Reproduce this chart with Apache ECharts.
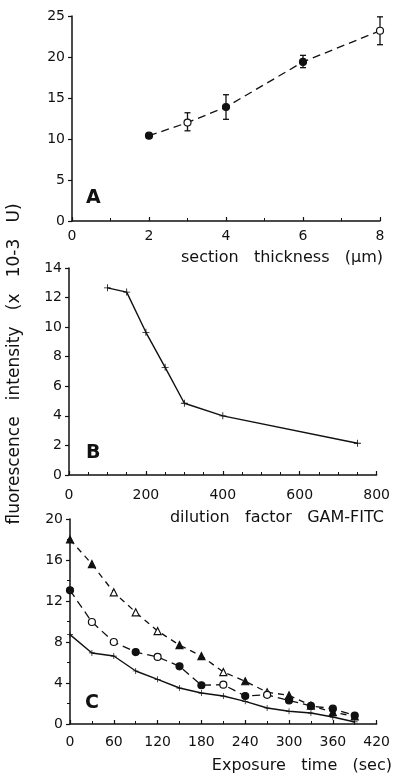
<!DOCTYPE html>
<html>
<head>
<meta charset="utf-8">
<script src="https://cdn.jsdelivr.net/npm/echarts@6/dist/echarts.min.js"></script>
<style>
html,body{margin:0;padding:0;background:#fff;}
#chart{width:393px;height:777px;}
</style>
</head>
<body>
<div id="chart"></div>
<script>
// Panel A: section thickness
const aThickness = [2, 3, 4, 6, 8];
const aIntensity = [10.4, 12.0, 13.9, 19.4, 23.2];
const aErrLow = [10.2, 11.0, 12.4, 18.7, 21.5];
const aErrHigh = [10.6, 13.2, 15.4, 20.2, 24.9];

// Panel B: dilution factor
const bDilution = [100, 150, 200, 250, 300, 400, 750];
const bIntensity = [12.66, 12.37, 9.65, 7.28, 4.85, 4.0, 2.15];

// Panel C: exposure time
const cTime = [0, 30, 60, 90, 120, 150, 180, 210, 240, 270, 300, 330, 360, 390];
const cTriangle = [18.0, 15.6, 12.85, 10.9, 9.07, 7.7, 6.63, 5.07, 4.17, 3.1, 2.8, 1.8, 1.15, 0.75];
const cCircle = [13.04, 9.95, 8.0, 7.02, 6.54, 5.63, 3.78, 3.84, 2.73, 2.85, 2.3, 1.76, 1.5, 0.82];
const cPlus = [8.72, 6.93, 6.63, 5.17, 4.36, 3.51, 3.02, 2.73, 2.21, 1.56, 1.24, 1.07, 0.68, 0.2];

const ink = '#111';
const font = 'DejaVu Sans';

const aFilled = [true, false, true, true, false];
const triFilled = [true, true, false, false, false, true, true, false, true, false, true, true, true, true];
const cirFilled = [true, false, false, true, false, true, true, false, true, false, true, true, true, true];

function styled(xs, ys, filled) {
  return xs.map((x, i) => ({
    value: [x, ys[i]],
    itemStyle: { color: filled[i] ? ink : '#fff', borderColor: ink, borderWidth: 1.2 }
  }));
}

const plusPath = 'path://M-0.6,-5H0.6V-0.6H5V0.6H0.6V5H-0.6V0.6H-5V-0.6H-0.6Z';

function yAxisCfg(gi, min, max, interval, minorSplit) {
  return {
    type: 'value', gridIndex: gi, min: min, max: max, interval: interval,
    axisLine: { show: true, lineStyle: { color: ink, width: 1.5 } },
    axisTick: { show: true, inside: false, length: 4, lineStyle: { color: ink, width: 1.2 } },
    minorTick: { show: !!minorSplit, splitNumber: minorSplit || 5, length: 3, lineStyle: { color: ink, width: 1 } },
    axisLabel: { color: ink, fontSize: 14, fontFamily: font, margin: 7 },
    splitLine: { show: false }
  };
}
function xAxisCfg(gi, min, max, interval, minorSplit, margin) {
  return {
    type: 'value', gridIndex: gi, min: min, max: max, interval: interval,
    axisLine: { show: true, onZero: false, lineStyle: { color: ink, width: 1.5 } },
    axisTick: { show: true, inside: true, length: 4, lineStyle: { color: ink, width: 1.2 } },
    minorTick: { show: !!minorSplit, splitNumber: minorSplit || 5, length: 3, lineStyle: { color: ink, width: 1 } },
    axisLabel: { color: ink, fontSize: 14, fontFamily: font, margin: margin },
    splitLine: { show: false }
  };
}

const chart = echarts.init(document.getElementById('chart'), null, { renderer: 'canvas' });

const errData = aThickness.map((t, i) => [t, aErrLow[i], aErrHigh[i]]);

const option = {
  animation: false,
  backgroundColor: '#fff',
  grid: [
    { left: 72, top: 16, width: 308, height: 205 },
    { left: 69, top: 268, width: 308, height: 207 },
    { left: 70, top: 519, width: 308, height: 205 }
  ],
  xAxis: [
    xAxisCfg(0, 0, 8, 2, 2, 8),
    xAxisCfg(1, 0, 800, 200, 4, 13),
    xAxisCfg(2, 0, 420, 60, 2, 11)
  ],
  yAxis: [
    yAxisCfg(0, 0, 25, 5, 0),
    yAxisCfg(1, 0, 14, 2, 0),
    yAxisCfg(2, 0, 20, 4, 2)
  ],
  series: [
    {
      type: 'custom', xAxisIndex: 0, yAxisIndex: 0, data: errData, z: 1,
      renderItem: function (params, api) {
        const x = api.value(0), lo = api.value(1), hi = api.value(2);
        const p1 = api.coord([x, lo]), p2 = api.coord([x, hi]);
        const st = { stroke: ink, lineWidth: 1.3 };
        return {
          type: 'group', children: [
            { type: 'line', shape: { x1: p1[0], y1: p1[1], x2: p2[0], y2: p2[1] }, style: st },
            { type: 'line', shape: { x1: p1[0] - 3, y1: p1[1], x2: p1[0] + 3, y2: p1[1] }, style: st },
            { type: 'line', shape: { x1: p2[0] - 3, y1: p2[1], x2: p2[0] + 3, y2: p2[1] }, style: st }
          ]
        };
      }
    },
    {
      type: 'line', xAxisIndex: 0, yAxisIndex: 0, z: 3,
      data: styled(aThickness, aIntensity, aFilled),
      symbol: 'circle', symbolSize: 7,
      lineStyle: { color: ink, width: 1.3, type: [8, 5] }
    },
    {
      type: 'line', xAxisIndex: 1, yAxisIndex: 1,
      data: bDilution.map((d, i) => [d, bIntensity[i]]),
      symbol: plusPath, symbolSize: 7,
      itemStyle: { color: ink },
      lineStyle: { color: ink, width: 1.4 }
    },
    {
      type: 'line', xAxisIndex: 2, yAxisIndex: 2,
      data: styled(cTime, cTriangle, triFilled),
      symbol: 'triangle', symbolSize: 7,
      lineStyle: { color: ink, width: 1.3, type: [6, 5] }
    },
    {
      type: 'line', xAxisIndex: 2, yAxisIndex: 2,
      data: styled(cTime, cCircle, cirFilled),
      symbol: 'circle', symbolSize: 7,
      lineStyle: { color: ink, width: 1.3, type: [8, 5] }
    },
    {
      type: 'line', xAxisIndex: 2, yAxisIndex: 2,
      data: cTime.map((t, i) => [t, cPlus[i]]),
      symbol: plusPath, symbolSize: 6,
      itemStyle: { color: ink },
      lineStyle: { color: ink, width: 1.4 }
    }
  ],
  graphic: [
    { type: 'text', left: 86, top: 189, style: { text: 'A', font: 'bold 19px "DejaVu Sans"', fill: ink } },
    { type: 'text', left: 86, top: 444, style: { text: 'B', font: 'bold 19px "DejaVu Sans"', fill: ink } },
    { type: 'text', left: 85, top: 694, style: { text: 'C', font: 'bold 19px "DejaVu Sans"', fill: ink } },
    { type: 'text', x: 383, y: 258, style: { text: 'section   thickness   (µm)', font: '16px "DejaVu Sans"', fill: ink, align: 'right', verticalAlign: 'middle' } },
    { type: 'text', x: 384, y: 518, style: { text: 'dilution   factor   GAM-FITC', font: '16px "DejaVu Sans"', fill: ink, align: 'right', verticalAlign: 'middle' } },
    { type: 'text', x: 392, y: 766, style: { text: 'Exposure   time   (sec)', font: '16px "DejaVu Sans"', fill: ink, align: 'right', verticalAlign: 'middle' } },
    { type: 'text', x: 15, y: 364, rotation: Math.PI / 2, style: { text: 'fluorescence   intensity   (x   10-3   U)', font: '17px "DejaVu Sans"', fill: ink, align: 'center', verticalAlign: 'middle' } }
  ]
};
chart.setOption(option);
</script>
</body>
</html>
